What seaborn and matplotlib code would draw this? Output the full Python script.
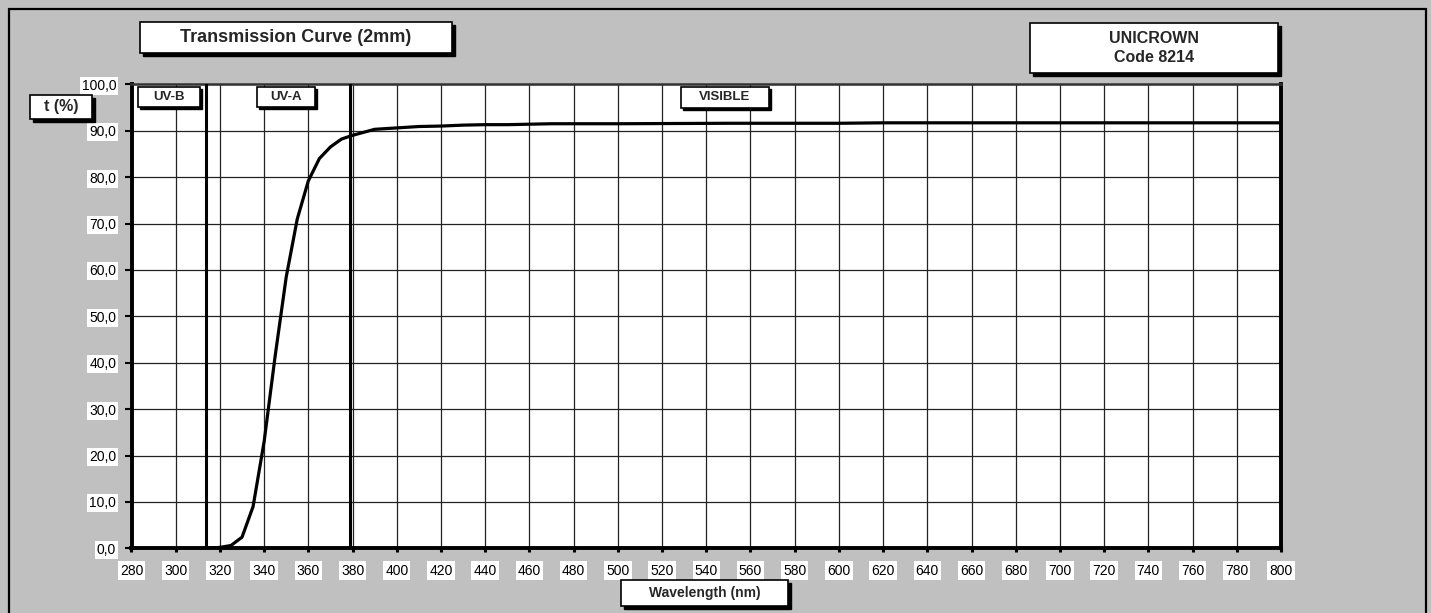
import numpy as np
import pandas as pd
import matplotlib
matplotlib.use("Agg")
import matplotlib.pyplot as plt
from matplotlib.patches import Rectangle
import seaborn as sns

# transmission values (2mm UNICROWN)
wavelength = [315, 320, 325, 330, 335, 340, 345, 350, 355, 360, 365, 370, 375, 380,
              390, 400, 410, 420, 430, 440, 450, 460, 470, 480, 500, 550, 600, 620,
              700, 800]
transmission = [0.0, 0.2, 0.6, 2.4, 9.0, 23.0, 41.5, 58.5, 71.0, 79.2, 84.0, 86.5,
                88.2, 89.0, 90.3, 90.6, 90.9, 91.0, 91.2, 91.3, 91.3, 91.4, 91.5,
                91.5, 91.5, 91.6, 91.6, 91.7, 91.7, 91.7]
x_ticks = list(range(280, 801, 20))
y_ticks = list(range(0, 101, 10))
region_edges = [313.5, 379]

df = pd.DataFrame({"wl": wavelength, "t": transmission})

W, H = 1431, 613
sns.set_theme(style="white")
plt.rcParams["font.family"] = ["Liberation Sans", "DejaVu Sans"]

fig = plt.figure(figsize=(W / 100, H / 100), dpi=100)
fig.patch.set_facecolor("#c0c0c0")


def fx(px):
    return px / W


def fy(py):
    return 1 - py / H


def label_box(x0, y0, x1, y1, text, size=9, shadow=3, lw=1.2):
    # shadow first, then white box, then the text on top
    fig.add_artist(Rectangle((fx(x0 + shadow), fy(y1 + shadow)), fx(x1 - x0), (y1 - y0) / H,
                             transform=fig.transFigure, facecolor="black",
                             edgecolor="black", zorder=10))
    fig.add_artist(Rectangle((fx(x0), fy(y1)), fx(x1 - x0), (y1 - y0) / H,
                             transform=fig.transFigure, facecolor="white",
                             edgecolor="black", lw=lw, zorder=11))
    fig.text(fx((x0 + x1) / 2), fy((y0 + y1) / 2), text, ha="center", va="center",
             fontsize=size, fontweight="bold", zorder=12, linespacing=1.3)


# outer frame
fig.add_artist(Rectangle((fx(9), -0.01), fx(1426 - 9), fy(9) + 0.01,
                         transform=fig.transFigure, facecolor="none",
                         edgecolor="black", lw=1.6, zorder=1))

ax = fig.add_axes([fx(131.5), fy(548.3), fx(1281 - 131.5), (548.3 - 84.3) / H])
ax.set_facecolor("white")

sns.lineplot(data=df, x="wl", y="t", ax=ax, color="black", lw=2.3, zorder=5)

for edge in region_edges:
    ax.axvline(edge, color="black", lw=2.2, zorder=4)

ax.set_xlim(280, 800)
ax.set_ylim(0, 100)
ax.set_xticks(x_ticks)
ax.set_yticks(y_ticks)
ax.set_xticklabels([str(v) for v in x_ticks])
ax.set_yticklabels([f"{v:.1f}".replace(".", ",") for v in y_ticks])
ax.grid(True, color="#222222", lw=0.9)
ax.set_axisbelow(True)
ax.set_xlabel("")
ax.set_ylabel("")

ax.tick_params(axis="x", direction="out", length=3, width=2.2, pad=8,
               labelsize=10, colors="black", bottom=True)
ax.tick_params(axis="y", direction="out", length=5, width=1.5, pad=6,
               labelsize=10, colors="black", left=True)
for lab in ax.get_xticklabels() + ax.get_yticklabels():
    lab.set_bbox(dict(facecolor="white", edgecolor="none", pad=1.5))

for side in ["left", "bottom", "right"]:
    ax.spines[side].set_visible(True)
    ax.spines[side].set_color("black")
    ax.spines[side].set_linewidth(2.8)
ax.spines["top"].set_color("#333333")
ax.spines["top"].set_linewidth(1.8)

label_box(140, 22, 452, 53, "Transmission Curve (2mm)", size=13)
label_box(1030, 23, 1278, 73, "UNICROWN\nCode 8214", size=11.5)
label_box(30, 95, 92, 119, "t (%)", size=11.5)
label_box(138, 87, 200, 107, "UV-B", size=9.5, shadow=2)
label_box(257, 87, 315, 107, "UV-A", size=9.5, shadow=2)
label_box(681, 87, 769, 108, "VISIBLE", size=9.5, shadow=2)
label_box(621, 580, 788, 606, "Wavelength (nm)", size=10)

fig.savefig("out.png", dpi=100, facecolor=fig.get_facecolor())
